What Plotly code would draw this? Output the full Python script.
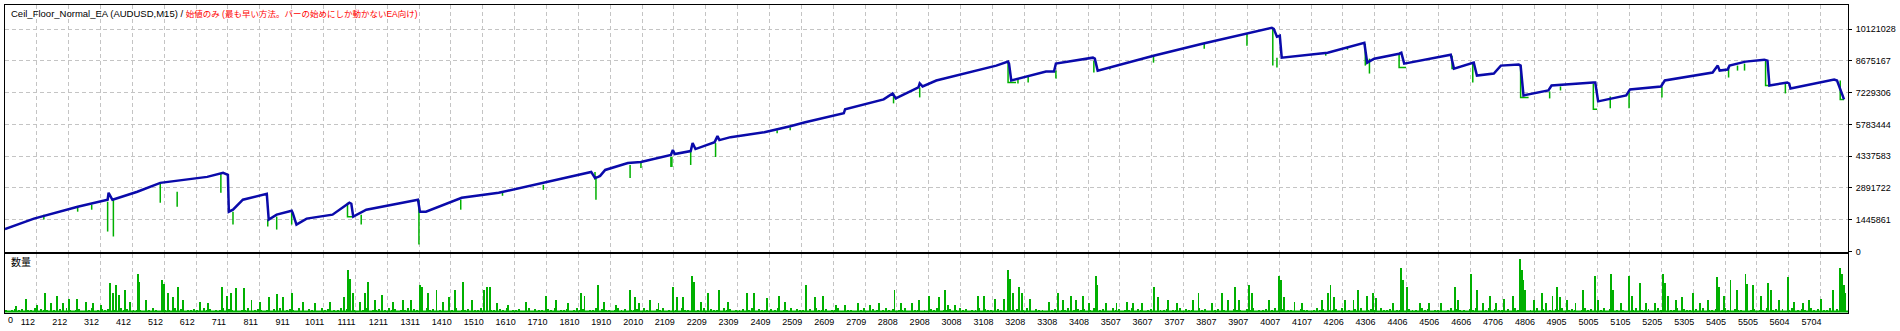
import plotly.graph_objects as go

# ---------------- data ----------------
title_left = "Ceil_Floor_Normal_EA (AUDUSD,M15)"
title_right = "始値のみ (最も早い方法。バーの始めにしか動かないEA向け)"
vol_label = "数量"

# balance (blue) : trade number / value
balance_t = [12, 103, 240, 334, 337, 343, 349, 359, 427, 499,
             646, 696, 705, 711, 714, 727, 758, 827, 833, 839,
             864, 911, 914, 926, 958, 1039, 1092, 1098, 1104, 1145,
             1301, 1307, 1313, 1332, 1444, 1560, 1850, 1862, 1872, 1878,
             1894, 1965, 2006, 2100, 2106, 2112, 2162, 2168, 2177, 2237,
             2246, 2252, 2287, 2393, 2474, 2521, 2642, 2646, 2767, 2795,
             2805, 2876, 2880, 2889, 2932, 3120, 3157, 3160, 3167, 3192,
             3276, 3301, 3307, 3423, 3429, 3438, 3613, 3766, 3909, 3984,
             3990, 4000, 4009, 4015, 4159, 4274, 4283, 4305, 4383, 4390,
             4399, 4545, 4555, 4611, 4617, 4627, 4680, 4702, 4758, 4764,
             4773, 4851, 4861, 4992, 4998, 5007, 5095, 5107, 5204, 5216,
             5366, 5382, 5388, 5413, 5419, 5469, 5528, 5538, 5544, 5600,
             5606, 5610, 5747, 5756, 5778]
balance_v = [1018000, 1493000, 2036000, 2353000, 2670000, 2489000, 2353000, 2398000, 2715000, 3122000,
             3394000, 3575000, 3530000, 3484000, 1810000, 1900000, 2353000, 2624000, 2624000, 1448000,
             1674000, 1855000, 1765000, 1222000, 1493000, 1674000, 2217000, 2172000, 1584000, 1900000,
             2353000, 2353000, 1810000, 1810000, 2443000, 2670000, 3620000, 3348000, 3394000, 3439000,
             3710000, 4027000, 4072000, 4389000, 4615000, 4434000, 4570000, 4932000, 4661000, 4977000,
             5249000, 5068000, 5204000, 5430000, 5701000, 5882000, 6290000, 6471000, 6923000, 7195000,
             6968000, 7466000, 7647000, 7511000, 7783000, 8462000, 8643000, 8552000, 7783000, 7873000,
             8190000, 8190000, 8552000, 8824000, 8778000, 8235000, 8914000, 9457000, 9910000, 10181000,
             10136000, 9774000, 9819000, 8824000, 9050000, 9502000, 8597000, 8778000, 9005000, 9050000,
             8552000, 8960000, 8326000, 8597000, 8597000, 8009000, 8100000, 8462000, 8507000, 8462000,
             7104000, 7330000, 7557000, 7692000, 7692000, 6833000, 7104000, 7376000, 7511000, 7783000,
             8145000, 8462000, 8235000, 8281000, 8462000, 8643000, 8733000, 8688000, 7557000, 7692000,
             7647000, 7421000, 7828000, 7783000, 6923000]

# equity (green) dips, segments separated by None
equity_t = [134, 134, None, 240, 240, None, 284, 284, None, 334, 334, None, 352, 352, None,
            499, 499, None, 552, 552, None, 689, 689, None, 727, 727, None, 836, 836, None,
            864, 864, None, 911, 911, None, 1086, 1086, 1101, None, 1129, 1129, None,
            1310, 1310, None, 1441, 1441, None, 1572, 1572, None, 1700, 1700, None,
            1862, 1862, None, 1865, 1865, None, 1972, 1972, None, 2006, 2006, None,
            2100, 2100, None, 2103, 2103, None, 2162, 2162, None, 2240, 2240, None,
            2433, 2433, None, 2474, 2474, None, 2798, 2798, None, 2880, 2880, None,
            3157, 3157, 3182, None, 3188, 3188, None, 3220, 3220, None, 3307, 3307, None,
            3426, 3426, None, 3476, 3476, None, 3613, 3613, None, 3772, 3772, None,
            3906, 3906, None, 3987, 3987, None, 4000, 4000, None, 4153, 4153, None,
            4221, 4221, None, 4277, 4277, None, 4290, 4290, None, 4383, 4383, 4405, None,
            4549, 4549, 4555, None, 4614, 4614, None, 4764, 4764, 4789, None,
            4855, 4855, None, 4889, 4889, None, 4992, 4992, 5004, None, 5045, 5045, None,
            5104, 5104, None, 5207, 5207, None, 5416, 5416, None, 5444, 5444, None,
            5466, 5466, None, 5532, 5532, 5544, None, 5594, 5594, None, 5766, 5766, 5778]
equity_v = [1674000, 1448000, None, 2036000, 1810000, None, 2127000, 1900000, None, 2262000, 905000, None, 2353000, 679000, None,
            3122000, 2217000, None, 2715000, 2036000, None, 3530000, 2670000, None, 1810000, 1222000, None, 1448000, 1131000, None,
            1584000, 995000, None, 1765000, 1222000, None, 2217000, 1584000, 1584000, None, 1674000, 1222000, None,
            2353000, 317000, None, 2353000, 1900000, None, 2670000, 2534000, None, 3032000, 2805000, None,
            3620000, 3258000, None, 3394000, 2353000, None, 3937000, 3348000, None, 4027000, 3801000, None,
            4299000, 3846000, None, 4299000, 3846000, None, 4525000, 3937000, None, 4932000, 4299000, None,
            5520000, 5385000, None, 5656000, 5520000, None, 7195000, 6742000, None, 7466000, 7014000, None,
            8643000, 7692000, 7692000, None, 7873000, 7647000, None, 8009000, 7692000, None, 8235000, 7873000, None,
            8688000, 8145000, None, 8371000, 8281000, None, 8914000, 8597000, None, 9457000, 9231000, None,
            9910000, 9367000, None, 10136000, 8462000, None, 8824000, 8371000, None, 9050000, 8914000, None,
            9276000, 9186000, None, 9457000, 8462000, None, 8778000, 8100000, None, 9005000, 8371000, 8371000, None,
            8914000, 8326000, 8326000, None, 8552000, 7692000, None, 8462000, 7014000, 7014000, None,
            7285000, 6968000, None, 7511000, 7330000, None, 7647000, 6471000, 6471000, None, 7059000, 6516000, None,
            7330000, 6516000, None, 7511000, 7014000, None, 8371000, 7919000, None, 8462000, 8235000, None,
            8552000, 8235000, None, 8688000, 7557000, 7557000, None, 7692000, 7195000, None, 7783000, 6923000, 6923000]

# volume (lots) - larger bars
vol_t = [47, 79, 113, 138, 155, 176, 195, 212, 238, 265, 289, 312, 342, 352, 361, 371, 388, 405, 429, 433,
         454, 503, 511, 522, 539, 554, 571, 624, 649, 694, 707, 722, 736, 762, 785, 813, 840, 866, 885, 913,
         946, 983, 1031, 1074, 1089, 1095, 1104, 1125, 1140, 1150, 1172, 1193, 1229, 1261, 1286, 1312, 1320, 1339, 1365, 1386,
         1405, 1422, 1447, 1475, 1513, 1524, 1532, 1556, 1588, 1645, 1708, 1740, 1778, 1819, 1829, 1872, 1891, 1929, 1972, 1986,
         2001, 2033, 2061, 2107, 2118, 2139, 2165, 2171, 2194, 2216, 2250, 2279, 2339, 2360, 2402, 2439, 2458, 2523, 2553, 2577,
         2619, 2647, 2687, 2723, 2753, 2801, 2821, 2855, 2878, 2908, 2940, 2959,
         2969, 2992, 3062, 3081, 3115, 3143, 3157, 3164, 3172, 3191, 3200, 3225, 3285, 3315, 3329, 3353, 3370, 3393, 3410, 3433,
         3436, 3465, 3497, 3529, 3548, 3578, 3616, 3626, 3658, 3688, 3737, 3754, 3796, 3828, 3847, 3868, 3881, 3913, 3921, 3975,
         4006, 4013, 4023, 4055, 4079, 4140, 4159, 4168, 4178, 4212, 4240, 4255, 4282, 4301, 4310, 4363, 4390, 4395, 4407, 4448,
         4477, 4514, 4558, 4567, 4609, 4628, 4647, 4669, 4688, 4713, 4741, 4762, 4768, 4773, 4779, 4807, 4832, 4845, 4864, 4879,
         4887, 4908, 4936, 4959, 4997, 5006, 5048, 5053, 5078, 5104, 5114, 5138, 5157, 5186, 5210, 5216, 5227, 5252, 5271, 5303,
         5327, 5350, 5380, 5386, 5403, 5422, 5441, 5469, 5475, 5494, 5517, 5541, 5549, 5573, 5602, 5620, 5649, 5668, 5706, 5743,
         5766, 5772, 5777, 5781]
vol_v = [0.57, 1.23, 0.67, 1.83, 0.83, 1.57, 0.9, 1.23, 1.23, 1.0, 0.9, 0.67, 2.93, 1.83, 2.73, 1.67, 2.13, 1.0, 3.83, 3.0,
         1.17, 3.23, 2.77, 1.9, 1.5, 2.47, 1.17, 1.0, 0.83, 2.43, 1.57, 1.83, 2.37, 2.4, 1.17, 1.0, 1.5, 1.77, 1.5, 1.83,
         1.0, 0.9, 1.0, 1.5, 4.17, 3.33, 1.83, 1.0, 1.83, 2.97, 1.17, 1.67, 1.0, 1.17, 1.17, 2.73, 2.5, 1.83, 2.17, 1.0,
         1.5, 2.17, 2.97, 1.17, 2.17, 2.5, 2.43, 0.83, 0.67, 1.0, 1.57, 1.17, 0.83, 1.9, 1.57, 2.73, 1.0, 0.67, 2.17, 1.5,
         0.83, 1.17, 0.83, 2.5, 1.5, 1.5, 3.57, 3.0, 1.0, 1.83, 2.17, 1.0, 1.83, 1.83, 1.33, 1.57, 1.0, 2.73, 1.5, 1.57,
         0.67, 0.67, 0.83, 0.67, 0.83, 2.17, 0.83, 0.83, 1.17, 1.57, 1.43, 2.17,
         0.67, 0.67, 1.57, 1.57, 1.23, 1.23, 4.17, 3.33, 1.83, 2.43, 1.83, 1.23, 1.0, 1.83, 1.17, 1.57, 1.17, 1.57, 0.83, 3.57,
         2.73, 0.83, 0.83, 1.0, 0.83, 0.83, 2.5, 1.5, 1.17, 0.83, 1.17, 1.83, 0.83, 1.83, 1.17, 2.5, 1.17, 2.73, 1.83, 1.17,
         3.57, 3.23, 1.5, 1.0, 0.83, 1.17, 1.83, 2.73, 1.5, 1.17, 1.17, 2.17, 1.57, 1.83, 1.33, 0.83, 4.43, 3.17, 2.5, 0.83,
         0.83, 0.83, 2.5, 1.17, 3.83, 2.17, 0.83, 1.57, 0.83, 1.23, 1.57, 5.33, 4.17, 3.17, 2.17, 1.17, 1.83, 0.83, 1.57, 2.5,
         1.5, 1.17, 0.83, 2.17, 3.57, 1.17, 3.83, 2.17, 0.83, 3.57, 1.57, 2.9, 0.83, 0.83, 3.83, 2.9, 1.57, 1.17, 1.5, 1.83,
         0.83, 1.17, 3.5, 2.5, 1.57, 3.23, 2.17, 3.83, 2.83, 2.73, 1.57, 2.9, 2.17, 1.17, 3.5, 1.0, 0.83, 1.17, 1.23, 2.17,
         4.43, 3.83, 2.73, 1.83]

# small volume bars, one digit (tenths of a lot) per 10 trades from trade 15
grass_start = 15
grass_step = 10
grass_digits = (
    "202313021403120203142013021402313020413021203142031204130213204130214031"
    "302140231020314023104203120413021403120314021302413021403120413022031402"
    "130214031203140213024031203140213024130214031202413021304120314023104213"
    "021403120413021302403120314021403120304213021403120314023102413021403120"
    "203140213024130214031203140213024103120413021402313024013204130214032013"
    "402130214031204130213024031203140213024130214031202413021304120314023104"
    "213021403120413021302403120314021403120304213021403120314023102413021403"
    "120203140213024130214031203140213024103120413021402313024013204130214032"
)

y_tick_vals = [0, 1445861, 2891722, 4337583, 5783444, 7229306, 8675167, 10121028]
x_tick_vals = [112, 212, 312, 412, 512, 612, 711, 811, 911, 1011, 1111, 1211, 1311, 1410, 1510,
               1610, 1710, 1810, 1910, 2010, 2109, 2209, 2309, 2409, 2509, 2609, 2709, 2808, 2908,
               3008, 3108, 3208, 3308, 3408, 3507, 3607, 3707, 3807, 3907, 4007, 4107, 4206, 4306,
               4406, 4506, 4606, 4706, 4806, 4905, 5005, 5105, 5205, 5305, 5405, 5505, 5604, 5704]

# ---------------- styling ----------------
BLUE = "#0A0AAA"
GREEN = "#00B000"
GRID = "#C4C4C4"
FONT = "Liberation Sans, Arial, Noto Sans CJK JP, sans-serif"

grass_t = [grass_start + i * grass_step for i in range(len(grass_digits))]
grass_v = [int(c) / 10 for c in grass_digits]

fig = go.Figure()
fig.add_trace(go.Scatter(x=equity_t, y=equity_v, mode="lines", connectgaps=False,
                         line=dict(color=GREEN, width=1.5), xaxis="x", yaxis="y", hoverinfo="skip"))
fig.add_trace(go.Scatter(x=balance_t, y=balance_v, mode="lines",
                         line=dict(color=BLUE, width=2.5), xaxis="x", yaxis="y"))
fig.add_trace(go.Bar(x=grass_t, y=grass_v, width=3, marker=dict(color=GREEN, line=dict(width=0)),
                     xaxis="x2", yaxis="y2"))
fig.add_trace(go.Bar(x=vol_t, y=vol_v, width=3, marker=dict(color=GREEN, line=dict(width=0)),
                     xaxis="x2", yaxis="y2"))

common_x = dict(range=[12.2, 5790.4], tickvals=x_tick_vals, showgrid=True, gridcolor=GRID,
                griddash="4px,3px", gridwidth=1, showline=True, mirror=True, linecolor="black",
                linewidth=1, zeroline=False, fixedrange=True)

fig.update_layout(
    width=1900, height=331,
    margin=dict(l=4, r=44, t=4, b=17),
    paper_bgcolor="white", plot_bgcolor="white",
    showlegend=False, barmode="overlay", bargap=0,
    font=dict(family=FONT, size=9, color="black"),
    xaxis=dict(domain=[0, 1], anchor="y", showticklabels=False, ticks="", **common_x),
    xaxis2=dict(domain=[0, 1], anchor="y2", matches="x", showticklabels=True,
                ticktext=[str(v) for v in x_tick_vals], ticks="", ticklabelshift=-9,
                tickfont=dict(family=FONT, size=9, color="black"), **common_x),
    yaxis=dict(domain=[0.1984, 1], anchor="x", side="right", range=[-22000, 11222000],
               tickvals=y_tick_vals, ticktext=[str(v) for v in y_tick_vals],
               ticks="outside", ticklen=3, tickcolor="black", ticklabelstandoff=2,
               tickfont=dict(family=FONT, size=9, color="black"),
               showgrid=True, gridcolor=GRID, griddash="4px,3px", gridwidth=1,
               showline=True, mirror=True, linecolor="black", linewidth=1, zeroline=False),
    yaxis2=dict(domain=[0, 0.1919], anchor="x2", range=[-0.15, 5.8], showgrid=False,
                showticklabels=False, ticks="", showline=True, mirror=True,
                linecolor="black", linewidth=1, zeroline=False),
)

fig.add_shape(type="line", xref="x2 domain", x0=0, x1=1, yref="y2", y0=0, y1=0,
              line=dict(color=GREEN, width=2))

fig.add_annotation(xref="paper", yref="paper", x=0.0022, y=0.9726, xanchor="left", yanchor="middle",
                   showarrow=False, font=dict(family=FONT, size=9.5, color="black"),
                   text=title_left + " / <span style='color:#FF0000;font-size:8.5px'>" + title_right + "</span>")
fig.add_annotation(xref="paper", yref="paper", x=0.0022, y=0.166, xanchor="left", yanchor="middle",
                   showarrow=False, font=dict(family=FONT, size=10, color="black"), text=vol_label)
fig.add_annotation(xref="paper", yref="paper", x=0.0006, y=-0.0242, xanchor="left", yanchor="middle",
                   showarrow=False, font=dict(family=FONT, size=9, color="black"), text="0")

fig.write_html("out.html")
